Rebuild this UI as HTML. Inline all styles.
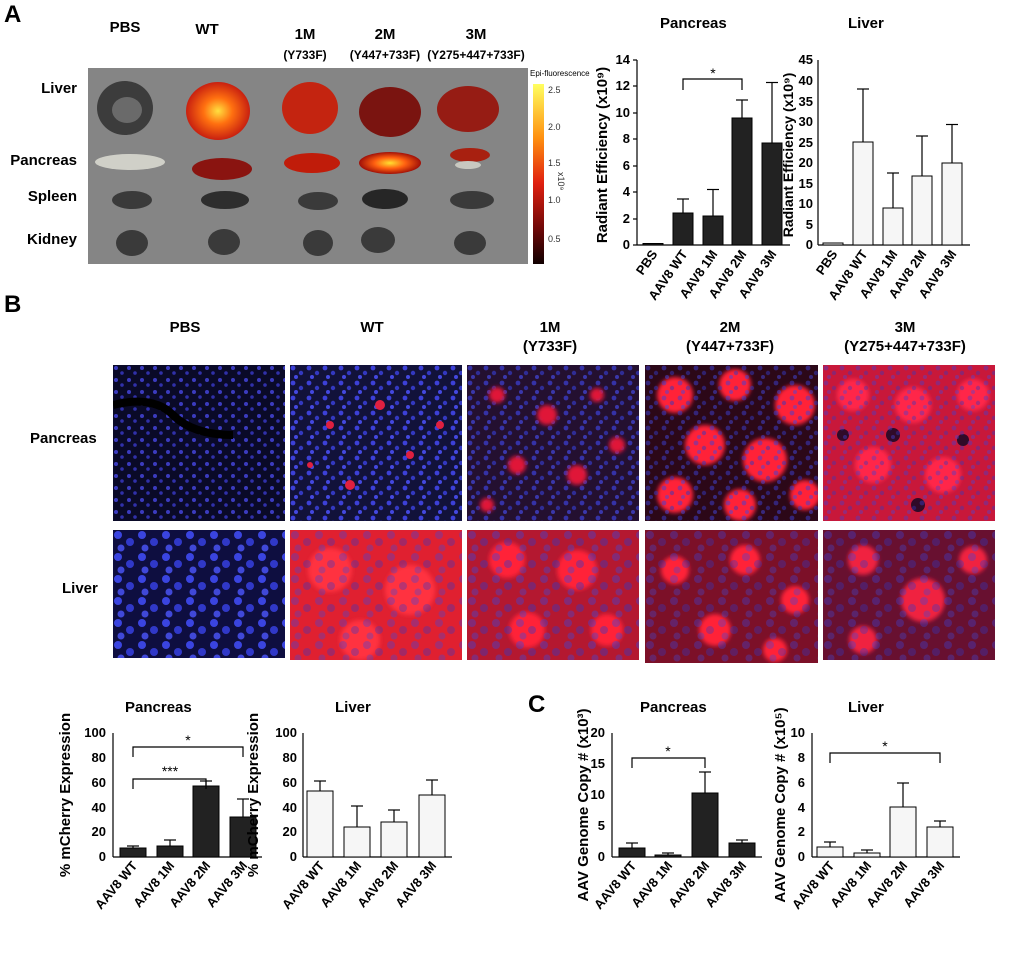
<!DOCTYPE html>
<html><head><meta charset="utf-8"><style>
html,body{margin:0;padding:0;background:#fff;}
svg{display:block;font-family:"Liberation Sans",Arial,sans-serif;}
.t{font-weight:bold;font-size:15px;}
.tk{font-size:13px;font-weight:bold;}
.lb{font-size:15px;font-weight:bold;}
</style></head><body>
<svg width="1020" height="961" viewBox="0 0 1020 961" xmlns="http://www.w3.org/2000/svg">
<defs>
<pattern id="nuc" width="16" height="15" patternUnits="userSpaceOnUse">
<circle cx="3" cy="3" r="2.4" fill="#3c40d8"/><circle cx="11" cy="8" r="2.2" fill="#3338c0"/><circle cx="6" cy="12" r="2" fill="#4448e0"/>
</pattern>
<pattern id="nucL" width="24" height="22" patternUnits="userSpaceOnUse">
<circle cx="5" cy="5" r="4" fill="#3a44e0"/><circle cx="17" cy="12" r="4" fill="#3038c8"/><circle cx="8" cy="18" r="3.5" fill="#4048d8"/>
</pattern>
<pattern id="nucS" width="13" height="12" patternUnits="userSpaceOnUse">
<circle cx="3" cy="3" r="2" fill="#5050ff" opacity=".7"/><circle cx="9" cy="8" r="1.8" fill="#4040e0" opacity=".7"/>
</pattern>
<filter id="bl2"><feGaussianBlur stdDeviation="2"/></filter>
<linearGradient id="cb" x1="0" y1="0" x2="0" y2="1">
<stop offset="0" stop-color="#ffff60"/><stop offset=".3" stop-color="#ff9010"/><stop offset=".55" stop-color="#e02010"/><stop offset=".8" stop-color="#700808"/><stop offset="1" stop-color="#100000"/>
</linearGradient>
<radialGradient id="hot"><stop offset="0" stop-color="#ffe040"/><stop offset=".45" stop-color="#ff7010"/><stop offset="1" stop-color="#c82010"/></radialGradient>
<radialGradient id="hot2"><stop offset="0" stop-color="#ffe030"/><stop offset=".5" stop-color="#ff6010"/><stop offset="1" stop-color="#a01008"/></radialGradient>
</defs>

<!-- Panel A -->
<text x="4" y="22" font-size="24" font-weight="bold">A</text>
<g class="t" text-anchor="middle" font-size="14">
<text x="125" y="32">PBS</text>
<text x="207" y="34">WT</text>
<text x="305" y="39">1M</text>
<text x="385" y="39">2M</text>
<text x="476" y="39">3M</text>
</g>
<g font-size="12" font-weight="bold" text-anchor="middle">
<text x="305" y="59">(Y733F)</text>
<text x="385" y="59">(Y447+733F)</text>
<text x="476" y="59">(Y275+447+733F)</text>
</g>
<g class="lb" text-anchor="end">
<text x="77" y="93">Liver</text>
<text x="77" y="165">Pancreas</text>
<text x="77" y="201">Spleen</text>
<text x="77" y="244">Kidney</text>
</g>

<rect x="88" y="68" width="440" height="196" fill="#858585"/>
<ellipse cx="125" cy="108" rx="28" ry="27" fill="#3c3c3c"/>
<ellipse cx="127" cy="110" rx="15" ry="13" fill="#6a6a6a"/>
<ellipse cx="218" cy="111" rx="32" ry="29" fill="url(#hot)"/>
<ellipse cx="310" cy="108" rx="28" ry="26" fill="#c42410"/>
<ellipse cx="390" cy="112" rx="31" ry="25" fill="#7a1410"/>
<ellipse cx="468" cy="109" rx="31" ry="23" fill="#961c14"/>
<ellipse cx="130" cy="162" rx="35" ry="8" fill="#d0d0c8"/>
<ellipse cx="222" cy="169" rx="30" ry="11" fill="#8a1410"/>
<ellipse cx="312" cy="163" rx="28" ry="10" fill="#c01c0a"/>
<ellipse cx="390" cy="163" rx="31" ry="11" fill="url(#hot2)"/>
<ellipse cx="470" cy="155" rx="20" ry="7" fill="#a82010"/>
<ellipse cx="468" cy="165" rx="13" ry="4" fill="#c8c8c0"/>
<ellipse cx="132" cy="200" rx="20" ry="9" fill="#3a3a3a"/>
<ellipse cx="225" cy="200" rx="24" ry="9" fill="#2e2e2e"/>
<ellipse cx="318" cy="201" rx="20" ry="9" fill="#3a3a3a"/>
<ellipse cx="385" cy="199" rx="23" ry="10" fill="#262626"/>
<ellipse cx="472" cy="200" rx="22" ry="9" fill="#3a3a3a"/>
<ellipse cx="132" cy="243" rx="16" ry="13" fill="#3a3a3a"/>
<ellipse cx="224" cy="242" rx="16" ry="13" fill="#3a3a3a"/>
<ellipse cx="318" cy="243" rx="15" ry="13" fill="#3a3a3a"/>
<ellipse cx="378" cy="240" rx="17" ry="13" fill="#3a3a3a"/>
<ellipse cx="470" cy="243" rx="16" ry="12" fill="#3a3a3a"/>

<text x="530" y="76" font-size="8">Epi-fluorescence</text>
<rect x="533" y="84" width="11" height="180" fill="url(#cb)"/>
<g font-size="9" fill="#333">
<text x="548" y="93">2.5</text><text x="548" y="130">2.0</text><text x="548" y="166">1.5</text>
<text x="548" y="203">1.0</text><text x="548" y="242">0.5</text>
<text x="558" y="172" transform="rotate(90 558 172)">x10⁹</text>
</g>

<!-- Pancreas A chart -->
<text x="660" y="28" class="t">Pancreas</text>
<g stroke="#000" stroke-width="1.2" fill="none">
<line x1="637" y1="60" x2="637" y2="245"/><line x1="637" y1="245" x2="790" y2="245"/>
</g>
<g class="tk" text-anchor="end">
<text x="630" y="249">0</text><text x="630" y="223">2</text><text x="630" y="196">4</text><text x="630" y="170">6</text>
<text x="630" y="143">8</text><text x="630" y="117">10</text><text x="630" y="90">12</text><text x="630" y="64">14</text>
</g>
<g stroke="#000" stroke-width="1.2">
<line x1="633" y1="245" x2="637" y2="245"/><line x1="633" y1="219" x2="637" y2="219"/><line x1="633" y1="192" x2="637" y2="192"/><line x1="633" y1="166" x2="637" y2="166"/><line x1="633" y1="139" x2="637" y2="139"/><line x1="633" y1="113" x2="637" y2="113"/><line x1="633" y1="86" x2="637" y2="86"/><line x1="633" y1="60" x2="637" y2="60"/>
</g>
<g fill="#222" stroke="#000">
<rect x="643" y="243.5" width="20" height="1.5"/>
<rect x="673" y="213" width="20" height="32"/>
<rect x="703" y="216" width="20" height="29"/>
<rect x="732" y="118" width="20" height="127"/>
<rect x="762" y="143" width="20" height="102"/>
</g>
<g stroke="#000" stroke-width="1.2">
<line x1="683" y1="213" x2="683" y2="199"/><line x1="677" y1="199" x2="689" y2="199"/>
<line x1="713" y1="216" x2="713" y2="189.5"/><line x1="707" y1="189.5" x2="719" y2="189.5"/>
<line x1="742" y1="118" x2="742" y2="100"/><line x1="736" y1="100" x2="748" y2="100"/>
<line x1="772" y1="143" x2="772" y2="82.5"/><line x1="766" y1="82.5" x2="778" y2="82.5"/>
<polyline points="683,90 683,79 742,79 742,90" fill="none"/>
</g>
<text x="713" y="78" font-size="14" text-anchor="middle">*</text>
<g class="tk" text-anchor="end">
<text transform="translate(658,254) rotate(-55)">PBS</text>
<text transform="translate(688,254) rotate(-55)">AAV8 WT</text>
<text transform="translate(718,254) rotate(-55)">AAV8 1M</text>
<text transform="translate(747,254) rotate(-55)">AAV8 2M</text>
<text transform="translate(777,254) rotate(-55)">AAV8 3M</text>
</g>
<text transform="translate(607,155) rotate(-90)" text-anchor="middle" font-size="15" font-weight="bold">Radiant Efficiency (x10⁹)</text>

<!-- Liver A chart -->
<text x="848" y="28" class="t">Liver</text>
<g stroke="#000" stroke-width="1.2" fill="none">
<line x1="818" y1="60" x2="818" y2="245"/><line x1="818" y1="245" x2="970" y2="245"/>
</g>
<g class="tk" text-anchor="end">
<text x="813" y="249">0</text><text x="813" y="229">5</text><text x="813" y="208">10</text><text x="813" y="188">15</text>
<text x="813" y="167">20</text><text x="813" y="147">25</text><text x="813" y="126">30</text><text x="813" y="106">35</text>
<text x="813" y="85">40</text><text x="813" y="64">45</text>
</g>
<g fill="#f6f6f6" stroke="#000">
<rect x="823" y="243" width="20" height="2"/>
<rect x="853" y="142" width="20" height="103"/>
<rect x="883" y="208" width="20" height="37"/>
<rect x="912" y="176" width="20" height="69"/>
<rect x="942" y="163" width="20" height="82"/>
</g>
<g stroke="#000" stroke-width="1.2">
<line x1="863" y1="142" x2="863" y2="89"/><line x1="857" y1="89" x2="869" y2="89"/>
<line x1="893" y1="208" x2="893" y2="173"/><line x1="887" y1="173" x2="899" y2="173"/>
<line x1="922" y1="176" x2="922" y2="136"/><line x1="916" y1="136" x2="928" y2="136"/>
<line x1="952" y1="163" x2="952" y2="124.5"/><line x1="946" y1="124.5" x2="958" y2="124.5"/>
</g>
<g class="tk" text-anchor="end">
<text transform="translate(838,254) rotate(-55)">PBS</text>
<text transform="translate(868,254) rotate(-55)">AAV8 WT</text>
<text transform="translate(898,254) rotate(-55)">AAV8 1M</text>
<text transform="translate(927,254) rotate(-55)">AAV8 2M</text>
<text transform="translate(957,254) rotate(-55)">AAV8 3M</text>
</g>
<text transform="translate(793,155) rotate(-90)" text-anchor="middle" font-size="14" font-weight="bold">Radiant Efficiency (x10⁹)</text>

<!-- Panel B -->
<text x="4" y="312" font-size="24" font-weight="bold">B</text>
<g class="t" text-anchor="middle" font-size="14">
<text x="185" y="332">PBS</text><text x="372" y="332">WT</text>
<text x="550" y="332">1M</text><text x="550" y="351">(Y733F)</text>
<text x="730" y="332">2M</text><text x="730" y="351">(Y447+733F)</text>
<text x="905" y="332">3M</text><text x="905" y="351">(Y275+447+733F)</text>
</g>
<text x="30" y="443" class="lb">Pancreas</text>
<text x="62" y="593" class="lb">Liver</text>

<!-- row 1 -->
<svg x="113" y="365" width="172" height="156"><rect width="172" height="156" fill="#0a0a28"/><rect width="172" height="156" fill="url(#nucS)"/><path d="M0 40 Q40 30 60 50 T120 70" stroke="#000" stroke-width="8" fill="none"/></svg>
<svg x="290" y="365" width="172" height="156"><rect width="172" height="156" fill="#12123a"/><rect width="172" height="156" fill="url(#nuc)"/>
<g fill="#e02040"><circle cx="40" cy="60" r="4"/><circle cx="90" cy="40" r="5"/><circle cx="120" cy="90" r="4"/><circle cx="60" cy="120" r="5"/><circle cx="150" cy="60" r="4"/><circle cx="20" cy="100" r="3"/></g></svg>
<svg x="467" y="365" width="172" height="156"><rect width="172" height="156" fill="#241030"/><rect width="172" height="156" fill="url(#nuc)" opacity=".7"/>
<g fill="#e01838" filter="url(#bl2)"><circle cx="30" cy="30" r="8"/><circle cx="80" cy="50" r="10"/><circle cx="130" cy="30" r="7"/><circle cx="50" cy="100" r="9"/><circle cx="110" cy="110" r="10"/><circle cx="150" cy="80" r="8"/><circle cx="20" cy="140" r="7"/></g></svg>
<svg x="645" y="365" width="173" height="156"><rect width="173" height="156" fill="#2c0818"/>
<g fill="#ff2038" filter="url(#bl2)"><circle cx="30" cy="30" r="18"/><circle cx="90" cy="20" r="16"/><circle cx="150" cy="40" r="20"/><circle cx="60" cy="80" r="20"/><circle cx="120" cy="95" r="22"/><circle cx="30" cy="130" r="18"/><circle cx="95" cy="140" r="16"/><circle cx="160" cy="130" r="15"/></g>
<rect width="173" height="156" fill="url(#nuc)" opacity=".5"/></svg>
<svg x="823" y="365" width="172" height="156"><rect width="172" height="156" fill="#c8183a"/>
<g fill="#ff2848" filter="url(#bl2)"><circle cx="30" cy="30" r="16"/><circle cx="90" cy="40" r="18"/><circle cx="150" cy="30" r="16"/><circle cx="50" cy="100" r="18"/><circle cx="120" cy="110" r="18"/></g>
<g fill="#300a28"><circle cx="70" cy="70" r="7"/><circle cx="140" cy="75" r="6"/><circle cx="20" cy="70" r="6"/><circle cx="95" cy="140" r="7"/></g>
<rect width="172" height="156" fill="url(#nuc)" opacity=".4"/></svg>

<!-- row 2 -->
<svg x="113" y="530" width="172" height="128"><rect width="172" height="128" fill="#0e0e40"/><rect width="172" height="128" fill="url(#nucL)"/></svg>
<svg x="290" y="530" width="172" height="130"><rect width="172" height="130" fill="#e02030"/>
<g fill="#ff3040" filter="url(#bl2)"><circle cx="40" cy="40" r="22"/><circle cx="120" cy="60" r="25"/><circle cx="70" cy="110" r="20"/></g>
<rect width="172" height="130" fill="url(#nucL)" opacity=".35"/></svg>
<svg x="467" y="530" width="172" height="130"><rect width="172" height="130" fill="#b41830"/>
<g fill="#ff2038" filter="url(#bl2)"><circle cx="40" cy="30" r="18"/><circle cx="110" cy="40" r="20"/><circle cx="60" cy="100" r="18"/><circle cx="140" cy="100" r="16"/></g>
<rect width="172" height="130" fill="url(#nucL)" opacity=".4"/></svg>
<svg x="645" y="530" width="173" height="133"><rect width="173" height="133" fill="#7c1028"/>
<g fill="#ff2038" filter="url(#bl2)"><circle cx="30" cy="40" r="14"/><circle cx="100" cy="30" r="15"/><circle cx="150" cy="70" r="14"/><circle cx="70" cy="100" r="16"/><circle cx="130" cy="120" r="12"/></g>
<rect width="173" height="133" fill="url(#nucL)" opacity=".35"/></svg>
<svg x="823" y="530" width="172" height="130"><rect width="172" height="130" fill="#681030"/>
<g fill="#f02040" filter="url(#bl2)"><circle cx="40" cy="30" r="15"/><circle cx="100" cy="70" r="22"/><circle cx="150" cy="30" r="14"/><circle cx="40" cy="110" r="14"/></g>
<rect width="172" height="130" fill="url(#nucL)" opacity=".35"/></svg>

<!-- B Pancreas chart -->
<text x="125" y="712" class="t">Pancreas</text>
<g stroke="#000" stroke-width="1.2" fill="none">
<line x1="113" y1="733" x2="113" y2="857"/><line x1="113" y1="857" x2="262" y2="857"/>
</g>
<g class="tk" text-anchor="end">
<text x="106" y="861">0</text><text x="106" y="836">20</text><text x="106" y="812">40</text><text x="106" y="787">60</text><text x="106" y="762">80</text><text x="106" y="737">100</text>
</g>
<g fill="#222" stroke="#000">
<rect x="120" y="848" width="26" height="9"/>
<rect x="157" y="846" width="26" height="11"/>
<rect x="193" y="786" width="26" height="71"/>
<rect x="230" y="817" width="26" height="40"/>
</g>
<g stroke="#000" stroke-width="1.2">
<line x1="133" y1="848" x2="133" y2="846"/><line x1="127" y1="846" x2="139" y2="846"/>
<line x1="170" y1="846" x2="170" y2="840"/><line x1="164" y1="840" x2="176" y2="840"/>
<line x1="206" y1="786" x2="206" y2="781"/><line x1="200" y1="781" x2="212" y2="781"/>
<line x1="243" y1="817" x2="243" y2="799"/><line x1="237" y1="799" x2="249" y2="799"/>
<polyline points="133,789 133,779 206,779 206,789" fill="none"/>
<polyline points="133,757 133,747 243,747 243,757" fill="none"/>
</g>
<text x="170" y="776" font-size="14" text-anchor="middle">***</text>
<text x="188" y="745" font-size="14" text-anchor="middle">*</text>
<g class="tk" text-anchor="end">
<text transform="translate(138,866) rotate(-50)">AAV8 WT</text>
<text transform="translate(175,866) rotate(-50)">AAV8 1M</text>
<text transform="translate(211,866) rotate(-50)">AAV8 2M</text>
<text transform="translate(248,866) rotate(-50)">AAV8 3M</text>
</g>
<text transform="translate(70,795) rotate(-90)" text-anchor="middle" font-size="15" font-weight="bold">% mCherry Expression</text>

<!-- B Liver chart -->
<text x="335" y="712" class="t">Liver</text>
<g stroke="#000" stroke-width="1.2" fill="none">
<line x1="303" y1="733" x2="303" y2="857"/><line x1="303" y1="857" x2="452" y2="857"/>
</g>
<g class="tk" text-anchor="end">
<text x="297" y="861">0</text><text x="297" y="836">20</text><text x="297" y="812">40</text><text x="297" y="787">60</text><text x="297" y="762">80</text><text x="297" y="737">100</text>
</g>
<g fill="#f6f6f6" stroke="#000">
<rect x="307" y="791" width="26" height="66"/>
<rect x="344" y="827" width="26" height="30"/>
<rect x="381" y="822" width="26" height="35"/>
<rect x="419" y="795" width="26" height="62"/>
</g>
<g stroke="#000" stroke-width="1.2">
<line x1="320" y1="791" x2="320" y2="781"/><line x1="314" y1="781" x2="326" y2="781"/>
<line x1="357" y1="827" x2="357" y2="806"/><line x1="351" y1="806" x2="363" y2="806"/>
<line x1="394" y1="822" x2="394" y2="810"/><line x1="388" y1="810" x2="400" y2="810"/>
<line x1="432" y1="795" x2="432" y2="780"/><line x1="426" y1="780" x2="438" y2="780"/>
</g>
<g class="tk" text-anchor="end">
<text transform="translate(325,866) rotate(-50)">AAV8 WT</text>
<text transform="translate(362,866) rotate(-50)">AAV8 1M</text>
<text transform="translate(399,866) rotate(-50)">AAV8 2M</text>
<text transform="translate(437,866) rotate(-50)">AAV8 3M</text>
</g>
<text transform="translate(258,795) rotate(-90)" text-anchor="middle" font-size="15" font-weight="bold">% mCherry Expression</text>

<!-- Panel C -->
<text x="528" y="712" font-size="24" font-weight="bold">C</text>
<text x="640" y="712" class="t">Pancreas</text>
<g stroke="#000" stroke-width="1.2" fill="none">
<line x1="612" y1="733" x2="612" y2="857"/><line x1="612" y1="857" x2="762" y2="857"/>
</g>
<g class="tk" text-anchor="end">
<text x="605" y="861">0</text><text x="605" y="830">5</text><text x="605" y="799">10</text><text x="605" y="768">15</text><text x="605" y="737">20</text>
</g>
<g fill="#222" stroke="#000">
<rect x="619" y="848" width="26" height="9"/>
<rect x="655" y="855" width="26" height="2"/>
<rect x="692" y="793" width="26" height="64"/>
<rect x="729" y="843" width="26" height="14"/>
</g>
<g stroke="#000" stroke-width="1.2">
<line x1="632" y1="848" x2="632" y2="843"/><line x1="626" y1="843" x2="638" y2="843"/>
<line x1="668" y1="855" x2="668" y2="853"/><line x1="662" y1="853" x2="674" y2="853"/>
<line x1="705" y1="793" x2="705" y2="772"/><line x1="699" y1="772" x2="711" y2="772"/>
<line x1="742" y1="843" x2="742" y2="840"/><line x1="736" y1="840" x2="748" y2="840"/>
<polyline points="632,768 632,758 705,758 705,768" fill="none"/>
</g>
<text x="668" y="756" font-size="14" text-anchor="middle">*</text>
<g class="tk" text-anchor="end">
<text transform="translate(637,866) rotate(-50)">AAV8 WT</text>
<text transform="translate(673,866) rotate(-50)">AAV8 1M</text>
<text transform="translate(710,866) rotate(-50)">AAV8 2M</text>
<text transform="translate(747,866) rotate(-50)">AAV8 3M</text>
</g>
<text transform="translate(588,805) rotate(-90)" text-anchor="middle" font-size="15" font-weight="bold">AAV Genome Copy # (x10³)</text>

<text x="848" y="712" class="t">Liver</text>
<g stroke="#000" stroke-width="1.2" fill="none">
<line x1="812" y1="733" x2="812" y2="857"/><line x1="812" y1="857" x2="960" y2="857"/>
</g>
<g class="tk" text-anchor="end">
<text x="805" y="861">0</text><text x="805" y="836">2</text><text x="805" y="812">4</text><text x="805" y="787">6</text><text x="805" y="762">8</text><text x="805" y="737">10</text>
</g>
<g fill="#f6f6f6" stroke="#000">
<rect x="817" y="847" width="26" height="10"/>
<rect x="854" y="853" width="26" height="4"/>
<rect x="890" y="807" width="26" height="50"/>
<rect x="927" y="827" width="26" height="30"/>
</g>
<g stroke="#000" stroke-width="1.2">
<line x1="830" y1="847" x2="830" y2="842"/><line x1="824" y1="842" x2="836" y2="842"/>
<line x1="867" y1="853" x2="867" y2="850"/><line x1="861" y1="850" x2="873" y2="850"/>
<line x1="903" y1="807" x2="903" y2="783"/><line x1="897" y1="783" x2="909" y2="783"/>
<line x1="940" y1="827" x2="940" y2="821"/><line x1="934" y1="821" x2="946" y2="821"/>
<polyline points="830,763 830,753 940,753 940,763" fill="none"/>
</g>
<text x="885" y="751" font-size="14" text-anchor="middle">*</text>
<g class="tk" text-anchor="end">
<text transform="translate(835,866) rotate(-50)">AAV8 WT</text>
<text transform="translate(872,866) rotate(-50)">AAV8 1M</text>
<text transform="translate(908,866) rotate(-50)">AAV8 2M</text>
<text transform="translate(945,866) rotate(-50)">AAV8 3M</text>
</g>
<text transform="translate(785,805) rotate(-90)" text-anchor="middle" font-size="15" font-weight="bold">AAV Genome Copy # (x10⁵)</text>
</svg>
</body></html>
